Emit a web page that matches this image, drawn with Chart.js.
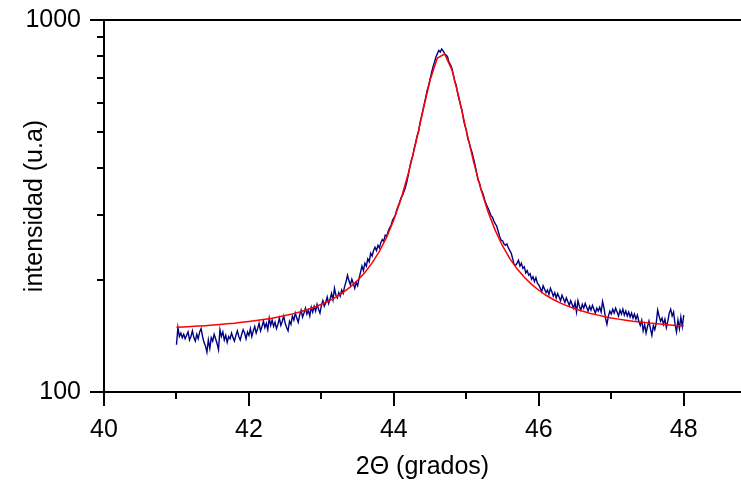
<!DOCTYPE html>
<html>
<head>
<meta charset="utf-8">
<script src="https://cdn.jsdelivr.net/npm/chart.js@4/dist/chart.umd.min.js"></script>
<style>
  html, body { margin: 0; padding: 0; background: #fff; }
  canvas { display: block; }
</style>
</head>
<body>
<canvas id="c" width="741" height="485"></canvas>
<script>
// ---- data ----
const xTickValues = [40, 41, 42, 43, 44, 45, 46, 47, 48];
const xTickLabeled = [40, 42, 44, 46, 48];
const yTickValues = [100, 200, 300, 400, 500, 600, 700, 800, 900, 1000];
const yTickLabeled = [100, 1000];

// measured pattern (2θ from 41.00 to 48.00 every 0.02)
const measuredStart = 41.0;
const measuredStep = 0.02;
const measured = [
  134,149,141,144,140, 143,139,142,145,138, 141,146,140,137,143, 139,145,148,141,136,
  133,128,138,131,140, 137,143,139,135,130, 147,141,145,138,142, 136,141,139,144,140,
  137,142,146,141,138, 143,147,144,139,145,
  142,148,141,146,150, 144,148,153,146,150, 155,149,153,147,158, 151,156,150,154,148,
  152,158,151,155,160, 153,149,146,155,152, 160,156,163,158,154, 161,166,159,163,168,
  162,166,160,169,164, 170,165,172,167,163,
  171,176,170,174,180, 173,178,184,177,190, 182,179,185,181,188, 184,192,198,206,199,
  194,201,196,190,197, 193,202,210,218,212, 222,218,228,224,236, 232,240,245,240,248,
  244,252,257,254,264, 262,270,276,280,289,
  294,299,309,316,324, 333,338,346,355,368, 384,403,420,430,452, 468,488,500,528,549,
  572,596,620,648,668, 694,722,748,770,795, 812,828,820,835,826, 812,805,797,770,759,
  742,715,684,668,636, 612,590,572,541,520,
  506,480,468,452,440, 424,408,390,372,366, 352,345,336,325,318, 312,305,298,295,288,
  283,279,270,262,256, 255,250,248,250,244, 240,236,228,220,219, 222,226,218,222,215,
  217,209,212,206,208, 201,204,198,203,196,
  194,190,186,193,189, 185,188,183,190,186, 181,185,179,184,180, 176,182,178,174,179,
  175,171,176,172,168, 174,164,176,170,166, 172,168,173,169,165, 170,166,171,167,163,
  168,165,169,164,175, 168,158,152,160,165,
  162,167,163,168,164, 160,166,162,167,161, 165,160,164,159,163, 158,162,157,161,155,
  151,156,146,152,144, 150,155,148,142,151, 147,153,166,160,155, 158,152,157,149,155,
  163,167,160,164,152, 145,156,148,159,150,
  161
];

// fitted curve (2θ from 41.0 to 48.0 every 0.1)
const fitStart = 41.0;
const fitStep = 0.1;
const fitted = [
  149.2,149.6,150.0,150.4,150.8,151.3,151.9,152.5,153.1,153.9,
  154.7,155.6,156.6,157.7,159.0,160.5,162.2,164.1,166.3,168.9,
  172.1,175.6,180.0,185.3,191.7,199.6,209.6,222.3,238.9,260.7,
  290.4,330.7,387.1,465.0,568.6,689.8,789.8,810.2,735.6,616.2,
  503.5,415.4,351.1,304.9,271.5,246.9,228.4,214.3,203.4,194.7,
  187.7,182.0,177.3,173.4,170.2,167.4,165.0,162.9,161.2,159.6,
  158.2,157.0,156.0,155.0,154.2,153.4,152.7,152.1,151.5,151.0,
  150.6
];

const xTitle = '2\u0398 (grados)';
const yTitle = 'intensidad (u.a)';

// ---- build chart ----
const toPoints = (start, step, vals) =>
  vals.map((v, i) => ({ x: +(start + i * step).toFixed(3), y: v }));

const FONT = 'Liberation Sans, Arial, Helvetica, sans-serif';

const axesDecor = {
  id: 'axesDecor',
  afterDraw(chart) {
    const { ctx, chartArea: ca, scales } = chart;
    const xs = scales.x, ys = scales.y;
    ctx.save();
    ctx.strokeStyle = '#000';
    ctx.lineWidth = 2;
    ctx.beginPath();
    ctx.moveTo(ca.left - 1, ca.top);
    ctx.lineTo(ca.right, ca.top);
    xTickValues.forEach(v => {
      const px = Math.round(xs.getPixelForValue(v));
      const len = xTickLabeled.includes(v) ? 14 : 7;
      ctx.moveTo(px, ca.bottom);
      ctx.lineTo(px, ca.bottom + len);
    });
    yTickValues.forEach(v => {
      const py = Math.round(ys.getPixelForValue(v));
      const len = yTickLabeled.includes(v) ? 14 : 7;
      ctx.moveTo(ca.left, py);
      ctx.lineTo(ca.left - len, py);
    });
    ctx.stroke();
    ctx.restore();
  }
};

new Chart(document.getElementById('c'), {
  type: 'line',
  data: {
    datasets: [
      {
        label: 'ajuste',
        data: toPoints(fitStart, fitStep, fitted),
        borderColor: '#ff0000',
        borderWidth: 1.5,
        pointRadius: 0,
        tension: 0,
        fill: false
      },
      {
        label: 'medida',
        data: toPoints(measuredStart, measuredStep, measured),
        borderColor: '#000080',
        borderWidth: 1.4,
        pointRadius: 0,
        tension: 0,
        fill: false
      }
    ]
  },
  options: {
    responsive: false,
    animation: false,
    devicePixelRatio: 1,
    layout: { padding: { top: 20, right: 0, left: 0, bottom: 0 } },
    plugins: { legend: { display: false }, tooltip: { enabled: false } },
    scales: {
      x: {
        type: 'linear',
        min: 40,
        max: 48.79,
        afterBuildTicks: s => { s.ticks = xTickValues.map(v => ({ value: v })); },
        afterFit: s => { s.height = 93; s.paddingLeft = 0; s.paddingRight = 0; },
        grid: { display: true, drawOnChartArea: false, drawTicks: false },
        border: { display: true, color: '#000', width: 2 },
        ticks: {
          autoSkip: false,
          maxRotation: 0,
          padding: 23,
          color: '#000',
          font: { family: FONT, size: 25 },
          callback: v => xTickLabeled.includes(v) ? String(v) : ''
        },
        title: {
          display: true,
          text: xTitle,
          color: '#000',
          font: { family: FONT, size: 25, lineHeight: 1.2 },
          padding: { top: 0, bottom: 3 }
        }
      },
      y: {
        type: 'logarithmic',
        min: 100,
        max: 1000,
        afterBuildTicks: s => { s.ticks = yTickValues.map(v => ({ value: v })); },
        afterFit: s => { s.width = 104; s.paddingTop = 0; s.paddingBottom = 0; },
        grid: { display: true, drawOnChartArea: false, drawTicks: false },
        border: { display: true, color: '#000', width: 2 },
        ticks: {
          autoSkip: false,
          padding: 23,
          color: '#000',
          font: { family: FONT, size: 25 },
          callback: v => yTickLabeled.includes(v) ? String(v) : ''
        },
        title: {
          display: true,
          text: yTitle,
          color: '#000',
          font: { family: FONT, size: 25, lineHeight: 1.2 },
          padding: { top: 20, bottom: 0 }
        }
      }
    }
  },
  plugins: [axesDecor]
});
</script>
</body>
</html>
